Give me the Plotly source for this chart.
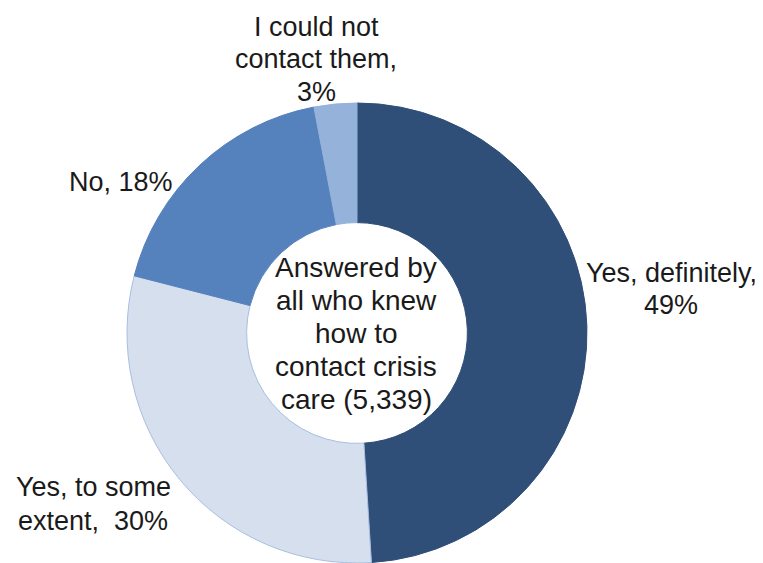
import plotly.graph_objects as go

# slices, clockwise from 12 o'clock
labels = ["Yes, definitely", "Yes, to some extent", "No", "I could not contact them"]
values = [49, 30, 18, 3]
colors = ["#2F4E78", "#D5DFEE", "#5581BC", "#94B2DA"]
edge_colors = ["#2F4E78", "#A9BFDF", "#5581BC", "#94B2DA"]

label_lines = [
    ["Yes, definitely,", "49%"],
    ["Yes, to some", "extent,  30%"],
    ["No, 18%"],
    ["I could not", "contact them,", "3%"],
]
center_lines = ["Answered by", "all who knew", "how to", "contact crisis", "care (5,339)"]

W, H = 763, 563
OFF = 8  # page body margin
FONT = "Arial, Liberation Sans, sans-serif"


def px_x(v):
    return (v - OFF) / W


def px_y(v):
    return 1 - (v - OFF) / H


fig = go.Figure(go.Pie(
    labels=labels,
    values=values,
    sort=False,
    direction="clockwise",
    rotation=0,
    hole=0.48,
    marker=dict(colors=colors, line=dict(color=edge_colors, width=1)),
    textinfo="none",
    hoverinfo="label+percent",
    showlegend=False,
    domain=dict(x=[px_x(127), px_x(587)], y=[px_y(563), px_y(103)]),
))


def add_block(lines, cx, y0, step, anchor="center", size=27):
    for i, line in enumerate(lines):
        fig.add_annotation(
            text=line, x=px_x(cx), y=px_y(y0 + i * step), xref="paper", yref="paper",
            xanchor=anchor, yanchor="middle", showarrow=False,
            font=dict(family=FONT, size=size, color="#1a1a1a"),
        )


# (centre x, first line y, line step, anchor) in screen pixels
label_pos = [(671, 273, 32, "center"), (93, 487, 34, "center"),
             (175, 182, 0, "right"), (316, 27, 32.5, "center")]

for lines, (cx, y0, step, anchor) in zip(label_lines, label_pos):
    add_block(lines, cx, y0, step, anchor)

add_block(center_lines, 356, 267, 33.2, size=28)

fig.update_layout(
    width=W, height=H,
    margin=dict(l=0, r=0, t=0, b=0),
    paper_bgcolor="white",
    plot_bgcolor="white",
)

fig.write_html("out.html")
